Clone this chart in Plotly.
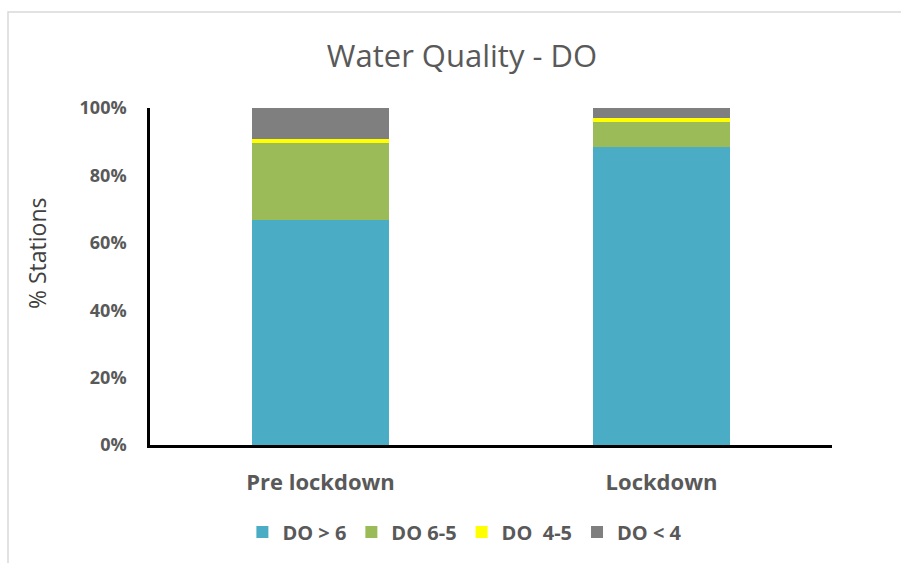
import plotly.graph_objects as go

categories = ["Pre lockdown", "Lockdown"]
series_names = ["DO > 6", "DO 6-5", "DO  4-5", "DO < 4"]
do_gt6 = [66.7, 88.5]
do_6_5 = [22.9, 7.3]
do_4_5 = [1.1, 1.1]
do_lt4 = [9.3, 3.1]
colors = ["#4bacc6", "#9bbb59", "#ffff00", "#7f7f7f"]
y_ticks = [0, 20, 40, 60, 80, 100]
y_tick_labels = ["0%", "20%", "40%", "60%", "80%", "100%"]

series_values = [do_gt6, do_6_5, do_4_5, do_lt4]

W, H = 901, 563
L, R, T, B = 150, 69, 108, 118
pw, ph = W - L - R, H - T - B

font_family = "Open Sans, Liberation Sans, sans-serif"
text_color = "#595959"

fig = go.Figure()
for name, vals, col in zip(series_names, series_values, colors):
    fig.add_trace(go.Bar(
        x=categories, y=vals, name=name,
        marker=dict(color=col, line=dict(width=0)),
        width=0.4,
    ))

fig.update_layout(
    barmode="stack",
    width=W, height=H,
    margin=dict(l=L, r=R, t=T, b=B),
    paper_bgcolor="white",
    plot_bgcolor="white",
    font=dict(family=font_family, color=text_color),
    title=dict(
        text="Water Quality - DO",
        x=462 / W, xanchor="center",
        y=1 - 56 / H, yanchor="middle",
        font=dict(size=31, color=text_color),
    ),
    xaxis=dict(
        showline=True, linecolor="black", linewidth=2.5,
        ticks="", showgrid=False,
        tickfont=dict(size=22, color=text_color, weight="bold"),
        ticklabelstandoff=16,
    ),
    yaxis=dict(
        range=[0, 100],
        tickvals=y_ticks, ticktext=y_tick_labels,
        showline=True, linecolor="black", linewidth=2.5,
        ticks="", showgrid=False, zeroline=False,
        tickfont=dict(size=18, color=text_color, weight="bold"),
        ticklabelstandoff=17,
    ),
    legend=dict(
        orientation="h",
        x=416 / W, xanchor="center",
        y=-(532 - 445) / ph, yanchor="middle",
        font=dict(size=20, color=text_color, weight="bold"),
        traceorder="normal",
        itemwidth=30,
    ),
    showlegend=True,
)

# Vertical axis title
fig.add_annotation(
    text="% Stations", textangle=-90,
    xref="paper", yref="paper",
    x=(37 - L) / pw, y=(445 - 253) / ph,
    xanchor="center", yanchor="middle",
    showarrow=False,
    font=dict(size=23, color="#404040"),
)

# Light outer frame of the chart area
fig.add_shape(
    type="rect", xref="paper", yref="paper",
    x0=(8 - L) / pw, x1=(W + 20 - L) / pw,
    y0=-(H + 20 - (H - B)) / ph, y1=((H - B) - 12) / ph,
    line=dict(color="#d9d9d9", width=1.5),
    fillcolor="rgba(0,0,0,0)", layer="below",
)

fig.write_html("out.html")
